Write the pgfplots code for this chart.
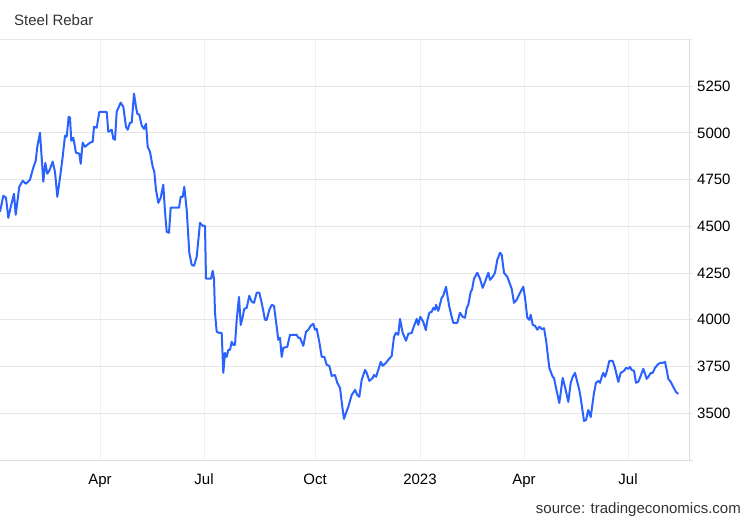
\documentclass[border=0pt]{standalone}
\usepackage{fontspec}
\setmainfont{Liberation Sans}
\usepackage{pgfplots}
\pgfplotsset{compat=1.18}
\definecolor{lineblue}{HTML}{2962FF}
\definecolor{gridh}{HTML}{E6E6E6}
\definecolor{gridv}{HTML}{EDF1F6}
\definecolor{axisgray}{HTML}{DCDCDC}
\definecolor{txt}{HTML}{333333}
\begin{document}
\begin{tikzpicture}
\useasboundingbox (0,0) rectangle (750pt,520pt);
\begin{axis}[
  at={(0pt,60pt)}, anchor=south west,
  scale only axis, width=689pt, height=420.5pt,
  xmin=0, xmax=689, ymin=3250, ymax=5500,
  axis line style={draw=none},
  xtick={100,204,315,420,524,628},
  xticklabels={Apr,Jul,Oct,2023,Apr,Jul},
  ytick={3500,3750,4000,4250,4500,4750,5000,5250},
  yticklabel pos=right,
  ytick pos=right,
  xtick pos=bottom,
  x tick style={draw=none},
  y tick style={draw=gridh, line width=1pt},
  major tick length=4pt,
  tick align=outside,
  grid=major,
  major x grid style={draw=gridv, line width=1pt},
  major y grid style={draw=gridh, line width=1pt},
  /pgf/number format/1000 sep={},
  /pgf/number format/assume math mode=true,
  tick label style={font=\fontsize{15}{18}\selectfont, text=black},
  xticklabel style={anchor=base, inner sep=0pt, yshift=-20pt},
  yticklabel style={anchor=west, inner sep=0pt, xshift=4pt},
]
\addplot[color=lineblue, line width=2pt, line join=round] coordinates {
(0,4578) (3.3,4664) (6,4653) (8.3,4546) (11.7,4626) (14,4675) (15.7,4562)
(19.3,4712) (22.7,4744) (26,4728) (30,4750) (33.3,4814) (35.7,4851) (37.3,4926)
(40,5001) (43.3,4739) (45.3,4840) (47.3,4782) (49.3,4798) (52.7,4846) (55,4792)
(57.3,4658) (60,4760) (62.7,4873) (65,4985) (66.7,4980) (68.7,5087) (70,5081)
(71.3,4958) (73.3,4974) (76,4894) (79.3,4889) (80.7,4835) (82.7,4948) (85,4926)
(90,4948) (92.7,4953) (94,5033) (96.7,5028) (99.3,5113)
(106.7,5113) (108.3,5006) (111.7,5017) (113.3,4969) (115,4964) (116.7,5113)
(120.7,5162) (123.3,5140) (126,5033) (127.7,5017) (130,5055) (131.7,5055)
(134,5210) (136,5140) (137.3,5103) (139.3,5097) (141.7,5039) (144,5022) (146,5049)
(147.7,4926) (150,4899) (152.7,4819) (154.3,4792) (156,4696) (158.3,4626)
(160.7,4653) (163.3,4723) (165,4578) (166.7,4471) (169,4466) (170.7,4600)
(179,4600) (180.7,4658) (182.7,4658) (184.3,4712) (186.7,4589) (189.3,4359)
(191.7,4294) (194,4289) (196.7,4337) (200,4519) (202.7,4503) (205,4503)
(206,4220) (211,4220) (212.7,4262) (214,4220) (215,4038) (216.7,3936)
(219.3,3930) (221.7,3930) (223.3,3716) (225,3823) (226.7,3802) (228.3,3839)
(230,3839) (231.7,3882) (233.3,3866) (235,3866) (236.7,4000) (239,4123)
(240.7,3973) (242.7,4016) (244.3,4059) (246.7,4064) (249.3,4129) (251.7,4097)
(254,4091) (256.7,4145) (259.3,4145) (261.7,4091) (265,4000) (266.7,4000)
(269.3,4054) (271.7,4080) (274,4075) (276.7,3963) (278.3,3893) (280,3904)
(281.7,3802) (283.3,3850) (287.3,3856) (290,3920) (296.7,3920) (298.3,3904)
(300,3904) (303.3,3861) (306,3936) (308.3,3947) (310.7,3968) (313.3,3979)
(315,3947) (316.7,3952) (319.3,3882) (321.7,3802) (324.3,3802) (326.7,3759)
(329.3,3754) (331.7,3700) (335,3705) (337.3,3663) (340,3636) (342.7,3518)
(344,3470) (346,3502) (348.3,3534) (351.7,3598) (355,3625) (357.3,3598)
(359.3,3588) (361.7,3679) (365,3732) (366.7,3716) (369.3,3673) (372.7,3689)
(374,3705) (376,3695) (378.3,3732) (380.7,3775) (382.7,3754) (386,3770)
(388.3,3786) (391.7,3807) (394,3909) (396,3930) (398.3,3920) (400,4005)
(402.7,3930) (406,3888) (408.3,3925) (411.7,3930) (413.3,3957) (416.7,4005)
(418.3,3973) (420.3,4016) (423.3,3989) (425.8,3945) (427.5,4000) (429.3,4038)
(431.7,4043) (433.3,4064) (435,4054) (436,4080) (438.3,4048) (441.7,4118)
(443.3,4129) (446,4177) (447.3,4134) (449.3,4070) (451.7,4016) (453.3,3984)
(457.3,3984) (460,4038) (462.7,4016) (465,4011) (466.7,4064) (468.3,4080)
(470.7,4150) (472,4161) (474,4220) (477.3,4252) (480,4220) (482.7,4171)
(485,4203) (488.3,4252) (490,4214) (492.7,4230) (495,4252) (497.3,4321)
(500,4359) (501.7,4348) (504,4252) (507.3,4230) (511.7,4166) (514,4091)
(516.7,4107) (520,4145) (523.3,4177) (525,4118) (527.3,4011) (529.3,4000)
(530.7,4027) (532.7,3973) (535,3968) (537.3,3947) (539.3,3963) (542,3950)
(544,3955) (546,3893) (549.3,3743) (552.7,3695) (554,3689) (556,3636)
(559.3,3555) (562.7,3689) (565,3641) (568.3,3561) (570.7,3663) (572.7,3695)
(575,3716) (579.3,3625) (580.7,3582) (584,3459) (586,3464) (588.3,3518)
(590.7,3480) (594,3609) (596,3663) (598.3,3673) (600,3663) (601.7,3695)
(603.3,3716) (605,3695) (606.7,3721) (609.3,3780) (612.7,3780) (615,3743)
(618.3,3668) (620.7,3716) (624,3727) (626,3743) (628.3,3738) (630,3748)
(631.7,3732) (634,3727) (636,3663) (638.3,3668) (640.7,3700) (643.3,3738)
(646.7,3684) (648.3,3695) (650.7,3716) (652.7,3716) (655,3743) (658.3,3764)
(660.7,3770) (662.7,3770) (665,3775) (666.7,3732) (668.3,3684) (670.7,3668)
(673.3,3641) (676,3614) (678.3,3604)
};
\end{axis}
\draw[axisgray, line width=1pt] (0pt,60pt) -- (693pt,60pt);
\draw[axisgray, line width=1pt] (689pt,60pt) -- (689pt,480.5pt);
\draw[gridh, line width=1pt] (0pt,480.5pt) -- (692pt,480.5pt);
\node[anchor=base west, inner sep=0pt, text=txt, font=\fontsize{15}{18}\selectfont] at (14pt,494pt) {Steel Rebar};
\node[anchor=base east, inner sep=0pt, text=txt, font=\fontsize{15}{18}\selectfont] at (741pt,7pt) {source: tradingeconomics.com};
\end{tikzpicture}
\end{document}
